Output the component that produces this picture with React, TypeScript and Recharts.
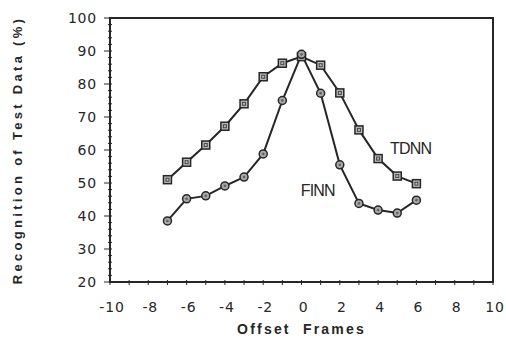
import { LineChart, Line, XAxis, YAxis, ReferenceArea, ReferenceDot } from "recharts"

// offset frames and recognition rates
const offsets = [-7, -6, -5, -4, -3, -2, -1, 0, 1, 2, 3, 4, 5, 6]
const tdnn = [51, 56.3, 61.5, 67.2, 74, 82.2, 86.3, 88.3, 85.7, 77.3, 66.1, 57.4, 52.1, 49.8]
const finn = [38.5, 45.2, 46.1, 49.1, 51.8, 58.8, 75, 89, 77.2, 55.5, 43.8, 41.8, 40.9, 44.8]

const xTicks = [-10, -9, -8, -7, -6, -5, -4, -3, -2, -1, 0, 1, 2, 3, 4, 5, 6, 7, 8, 9, 10]
const yTicks = [20, 22, 24, 26, 28, 30, 32, 34, 36, 38, 40, 42, 44, 46, 48, 50, 52, 54, 56, 58, 60, 62, 64, 66, 68, 70, 72, 74, 76, 78, 80, 82, 84, 86, 88, 90, 92, 94, 96, 98, 100]

const data = offsets.map((o, i) => ({ offset: o, tdnn: tdnn[i], finn: finn[i] }))

const INK = "#262626"
const FONT = "'Liberation Sans', Arial, Helvetica, sans-serif"
const TICK_FONT = "'DejaVu Sans', Verdana, sans-serif"

function YTick({ x, y, payload }: any) {
  const v = payload.value
  const major = v % 10 === 0
  return (
    <g>
      <line x1={major ? x - 6 : x - 2} x2={x + 2} y1={y} y2={y} stroke={INK} strokeWidth={1} />
      {major && (
        <text x={x - 13} y={y + 5} textAnchor="end" fontSize={14} fontFamily={TICK_FONT} fill={INK} letterSpacing={0.8}>
          {v}
        </text>
      )}
    </g>
  )
}

function XTick({ x, y, payload }: any) {
  const v = payload.value
  const major = v % 2 === 0
  return (
    <g>
      <line x1={x} x2={x} y1={y - 2} y2={y + 3} stroke={INK} strokeWidth={1} />
      {major && (
        <text x={x + 2} y={y + 30} textAnchor="middle" fontSize={14} fontFamily={TICK_FONT} fill={INK} letterSpacing={0.8}>
          {v}
        </text>
      )}
    </g>
  )
}

function SquareDot({ cx, cy }: any) {
  return (
    <g>
      <rect x={cx - 4} y={cy - 4} width={8} height={8} fill="#bbb" stroke={INK} strokeWidth={1.5} />
      <rect x={cx - 1.5} y={cy - 1.5} width={3} height={3} fill="none" stroke="#444" strokeWidth={1} />
    </g>
  )
}

function CircleDot({ cx, cy }: any) {
  return (
    <g>
      <circle cx={cx} cy={cy} r={4} fill="#aaa" stroke={INK} strokeWidth={1.5} />
      <circle cx={cx} cy={cy} r={1.4} fill="#666" />
    </g>
  )
}

const seriesLabel = (text: string) => (p: any) => (
  <text x={p.cx} y={p.cy + 6} textAnchor="middle" fontSize={16} fontFamily={FONT} fill={INK} letterSpacing={-0.8}>
    {text}
  </text>
)

export default function App() {
  return (
    <div style={{ position: "absolute", left: 0, top: 0, width: 506, height: 338, background: "#fff" }}>
      <LineChart width={506} height={338} data={data} margin={{ top: 18, right: 13, left: 0, bottom: 0 }}>
        <XAxis
          dataKey="offset"
          type="number"
          domain={[-10, 10]}
          ticks={xTicks}
          interval={0}
          tick={<XTick />}
          tickLine={false}
          tickSize={0}
          tickMargin={0}
          axisLine={false}
          height={56}
          label={{
            value: "Offset\u00a0\u00a0Frames",
            position: "insideBottom",
            offset: 4,
            fontSize: 14,
            fontWeight: "bold",
            fontFamily: FONT,
            fill: INK,
            letterSpacing: 2.2,
          }}
        />
        <YAxis
          type="number"
          domain={[20, 100]}
          ticks={yTicks}
          interval={0}
          tick={<YTick />}
          tickLine={false}
          tickSize={0}
          tickMargin={0}
          axisLine={false}
          width={110}
          label={{
            value: "Recognition of Test Data (%)",
            angle: -90,
            position: "insideLeft",
            offset: 17,
            fontSize: 13,
            fontWeight: "bold",
            fontFamily: FONT,
            fill: INK,
            letterSpacing: 3.3,
            style: { textAnchor: "middle" },
          }}
        />
        <ReferenceArea x1={-10} x2={10} y1={20} y2={100} fill="none" stroke={INK} strokeWidth={2} />
        <Line dataKey="tdnn" stroke={INK} strokeWidth={2} dot={(p: any) => <SquareDot key={`s${p.index}`} {...p} />} isAnimationActive={false} />
        <Line dataKey="finn" stroke={INK} strokeWidth={2} dot={(p: any) => <CircleDot key={`c${p.index}`} {...p} />} isAnimationActive={false} />
        <ReferenceDot x={5.7} y={60.6} r={0} shape={seriesLabel("TDNN")} />
        <ReferenceDot x={0.85} y={48} r={0} shape={seriesLabel("FINN")} />
      </LineChart>
    </div>
  )
}
